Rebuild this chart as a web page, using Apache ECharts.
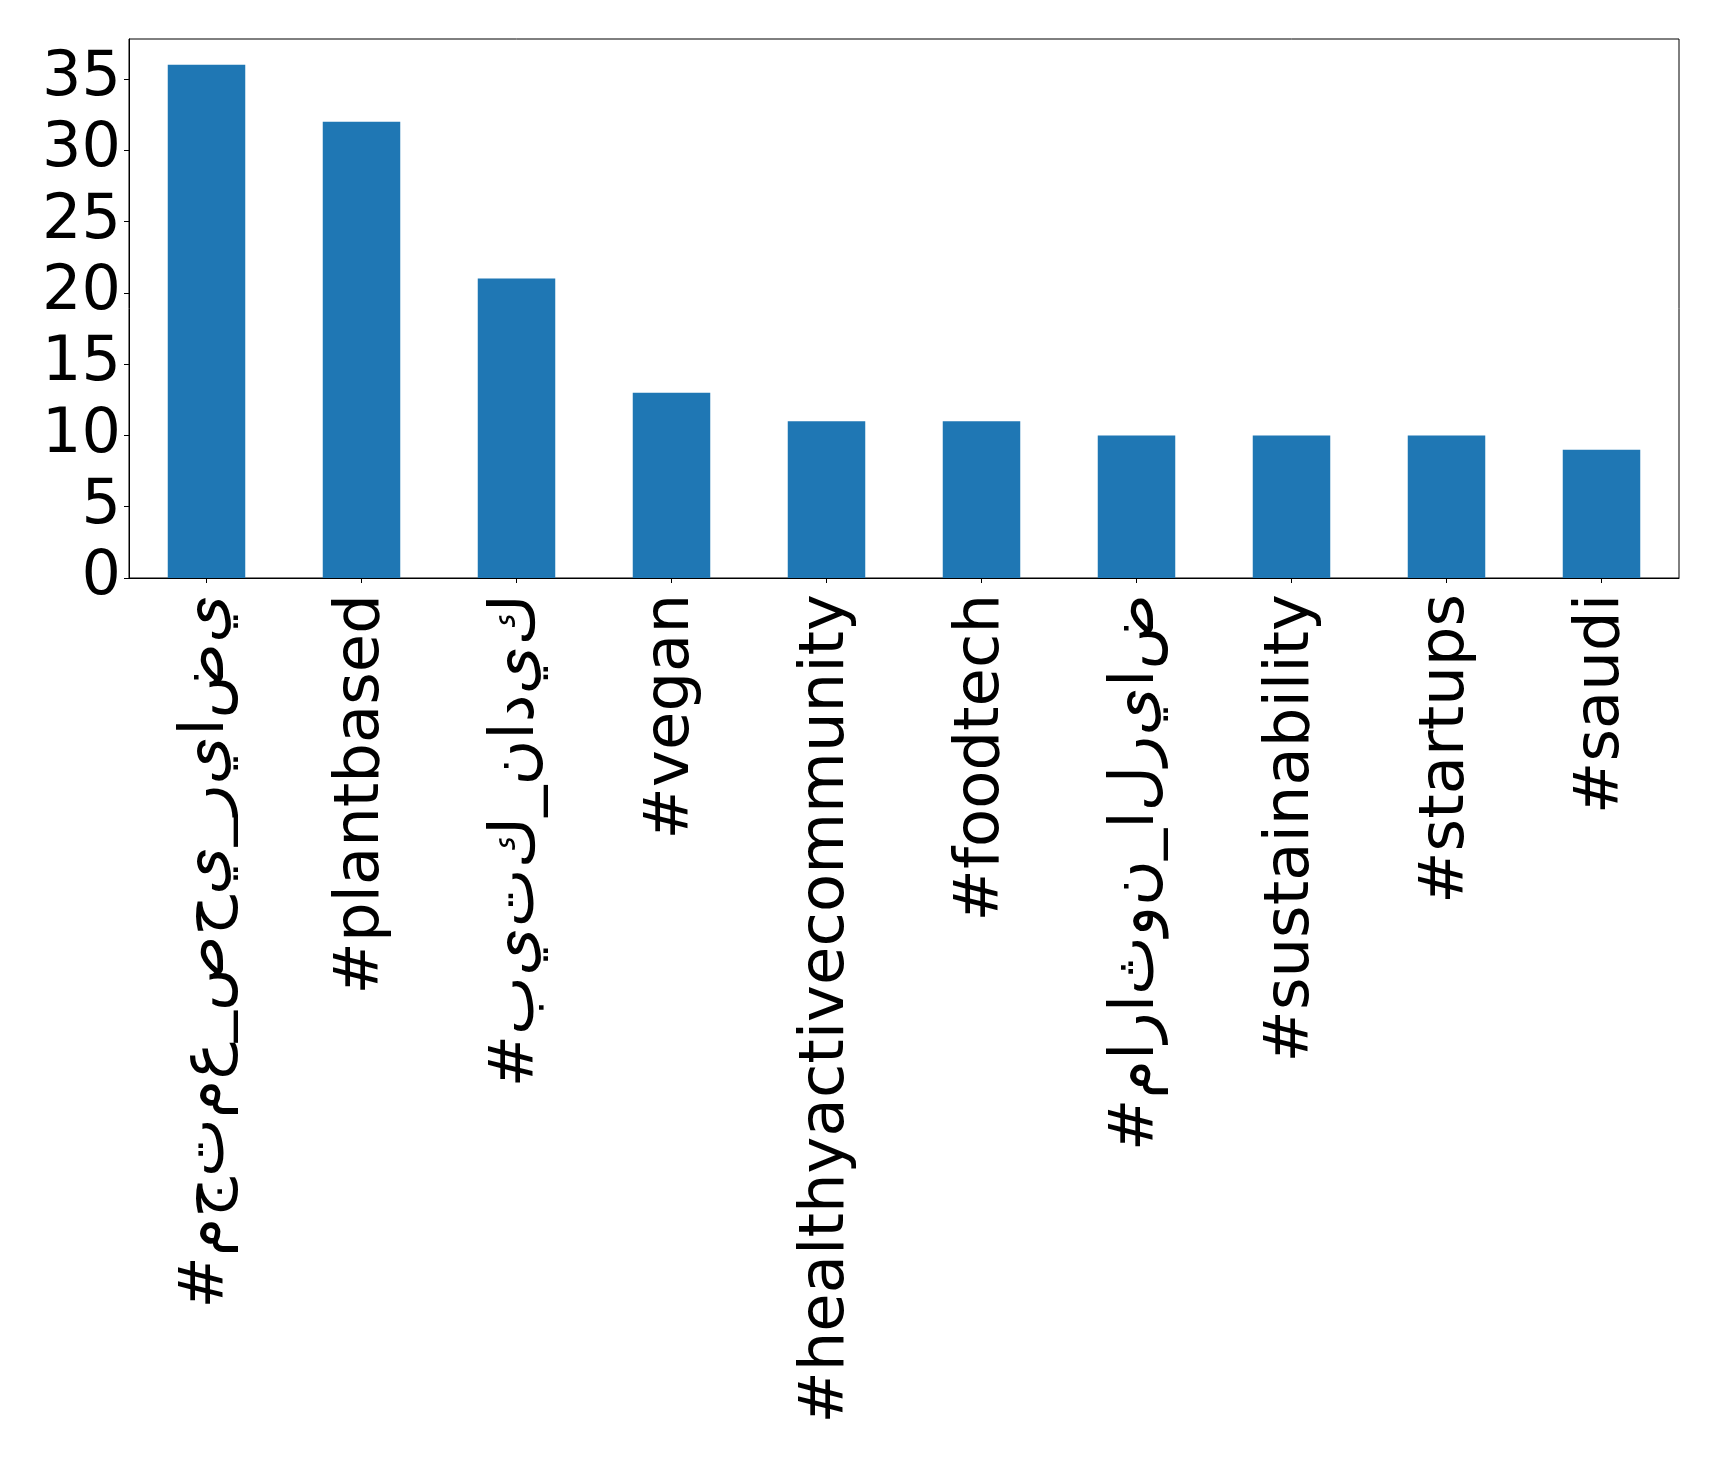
<!DOCTYPE html>
<html>
<head>
<meta charset="utf-8">
<script src="https://cdn.jsdelivr.net/npm/echarts@6/dist/echarts.min.js"></script>
<style>
html,body{margin:0;padding:0;background:#fff;}
#chart{width:1719px;height:1457px;}
</style>
</head>
<body>
<div id="chart"></div>
<script>
const categories = [
  "#مجتمع_صحي_رياضي",
  "#plantbased",
  "#بيتك_ناديك",
  "#vegan",
  "#healthyactivecommunity",
  "#foodtech",
  "#ماراثون_الرياض",
  "#sustainability",
  "#startups",
  "#saudi"
];
const counts = [36, 32, 21, 13, 11, 11, 10, 10, 10, 9];
const yTicks = [0, 5, 10, 15, 20, 25, 30, 35];

// The reference draws Arabic letters unjoined, in left-to-right order;
// keep the real strings and only adjust their display the same way.
function displayLabel(s) {
  if (/[\u0600-\u06FF]/.test(s)) {
    return '\u202D' + Array.from(s).join('\u200C') + '\u202C';
  }
  return s;
}

const chart = echarts.init(document.getElementById('chart'), null, {renderer: 'canvas'});
const font = "'DejaVu Sans', sans-serif";
chart.setOption({
  animation: false,
  backgroundColor: '#ffffff',
  grid: {
    left: 129, right: 40, top: 39, bottom: 879,
    show: true, borderColor: '#000', borderWidth: 1, backgroundColor: 'transparent'
  },
  xAxis: {
    type: 'category',
    data: categories,
    axisLine: {show: true, lineStyle: {color: '#000', width: 1}},
    axisTick: {show: true, alignWithLabel: true, length: 5, lineStyle: {color: '#000'}},
    axisLabel: {
      rotate: 90, color: '#000', fontSize: 62.5, fontFamily: font,
      margin: 16, interval: 0, padding: [20, 0, 0, 0],
      formatter: displayLabel
    },
    splitLine: {show: false}
  },
  yAxis: {
    type: 'value',
    min: 0, max: 37.8,
    interval: 5,
    axisLine: {show: true, lineStyle: {color: '#000', width: 1}},
    axisTick: {show: true, length: 5, lineStyle: {color: '#000'}, customValues: yTicks},
    axisLabel: {color: '#000', fontSize: 62, fontFamily: font, margin: 8, customValues: yTicks},
    splitLine: {show: false}
  },
  series: [{
    type: 'bar',
    data: counts,
    barWidth: '50%',
    itemStyle: {color: '#1f77b4'}
  }]
});
</script>
</body>
</html>
